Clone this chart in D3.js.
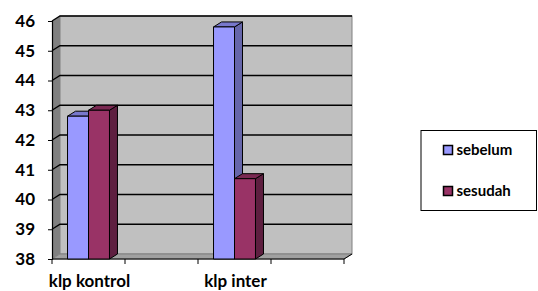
<!DOCTYPE html>
<html><head><meta charset="utf-8">
<script src="https://cdn.jsdelivr.net/npm/d3@7"></script>
<style>
body{margin:0;background:#fff;}
svg{display:block;font-family:Lato,"Open Sans",sans-serif;font-weight:bold;}
</style></head>
<body><svg id="c" width="538" height="291"></svg>
<script>
const categories = ["klp kontrol", "", "klp inter", ""];
const seriesNames = ["sebelum", "sesudah"];
const sebelum = [42.8, null, 45.8, null];
const sesudah = [43.0, null, 40.7, null];
const yTicks = [38, 39, 40, 41, 42, 43, 44, 45, 46];

const colors = {
  sebelum: {front: "#9999FF", top: "#7878CC", side: "#6666AA"},
  sesudah: {front: "#993366", top: "#7A2952", side: "#5E1F40"}
};
const svg = d3.select("#c");
const dx = 8, dy = -5;
const idx = d3.range(categories.length);
const x = d3.scaleBand().domain(idx).range([52, 344]).padding(0);
const y = d3.scaleLinear().domain([38, 46]).range([259, 21]);
const xs = d3.scaleBand().domain(seriesNames).range([0, x.bandwidth()]).paddingInner(0).paddingOuter(0.74);

const y0 = y(38), yTop = y(46), xL = x.range()[0], xR = x.range()[1];
// left side wall
svg.append("polygon").attr("points", [[xL, y0],[xL+dx, y0+dy],[xL+dx, yTop+dy],[xL, yTop]].join(" "))
  .attr("fill", "#808080");
// back wall
svg.append("rect").attr("x", xL+dx).attr("y", yTop+dy).attr("width", xR-xL).attr("height", y0-yTop)
  .attr("fill", "#C0C0C0").attr("stroke", "#808080").attr("stroke-width", 1);
// floor
svg.append("polygon").attr("points", [[xL, y0],[xL+dx, y0+dy],[xR+dx, y0+dy],[xR, y0]].join(" "))
  .attr("fill", "#A0A0A0").attr("stroke", "#808080");
// gridlines
yTicks.forEach(t => {
  if (t === 38) return;
  const yy = y(t);
  svg.append("polyline").attr("points", [[xL, yy],[xL+dx, yy+dy],[xR+dx, yy+dy]].join(" "))
    .attr("fill", "none").attr("stroke", "#000").attr("stroke-width", 1.3);
});
// axes
const yAxis = d3.axisLeft(y).tickValues(yTicks).tickSize(4).tickFormat(d3.format("d"));
const ga = svg.append("g").attr("transform", `translate(${xL},0)`).call(yAxis);
ga.select(".domain").attr("stroke", "#000").attr("stroke-width", 1.2);
ga.selectAll("text").attr("font-size", 17).attr("font-weight", "bold").attr("font-family", "Lato").attr("x", -17).attr("fill", "#000");
ga.selectAll(".tick line").attr("stroke", "#000");

const tickXs = idx.map(i => x(i)).concat([xR]);
svg.append("line").attr("x1", xL).attr("x2", xR).attr("y1", y0).attr("y2", y0).attr("stroke", "#000").attr("stroke-width", 1.2);
svg.append("line").attr("x1", xR).attr("x2", xR+dx).attr("y1", y0).attr("y2", y0+dy).attr("stroke", "#000");
svg.selectAll("line.xt").data(tickXs).join("line").attr("class", "xt")
  .attr("x1", d => d).attr("x2", d => d).attr("y1", y0).attr("y2", y0+5).attr("stroke", "#000");
svg.selectAll("text.xl").data(idx).join("text").attr("class", "xl")
  .attr("x", i => x(i) + x.bandwidth()/2 + 1).attr("y", 287).attr("text-anchor", "middle")
  .attr("font-size", 17).text(i => categories[i]);

// bars
const data = [];
idx.forEach(i => {
  seriesNames.forEach(s => {
    const v = (s === "sebelum" ? sebelum : sesudah)[i];
    if (v != null) data.push({i, s, v});
  });
});
const bw = xs.bandwidth();
const g = svg.append("g").attr("stroke", "#000").attr("stroke-width", 1).attr("stroke-linejoin", "round");
data.forEach(d => {
  const bx = x(d.i) + xs(d.s), by = y(d.v), col = colors[d.s];
  g.append("polygon").attr("points", [[bx+bw, by],[bx+bw+dx, by+dy],[bx+bw+dx, y0+dy],[bx+bw, y0]].join(" ")).attr("fill", col.side);
  g.append("polygon").attr("points", [[bx, by],[bx+dx, by+dy],[bx+bw+dx, by+dy],[bx+bw, by]].join(" ")).attr("fill", col.top);
  g.append("rect").attr("x", bx).attr("y", by).attr("width", bw).attr("height", y0 - by).attr("fill", col.front);
});

// legend
svg.append("rect").attr("x", 421).attr("y", 130.5).attr("width", 115.5).attr("height", 80)
  .attr("fill", "#fff").attr("stroke", "#000").attr("stroke-width", 1);
const lg = svg.selectAll("g.leg").data(seriesNames).join("g").attr("class", "leg")
  .attr("transform", (d, i) => `translate(443,${150 + i*41})`);
lg.append("rect").attr("x", 0.5).attr("y", -4.5).attr("width", 9).attr("height", 9)
  .attr("fill", d => colors[d].front).attr("stroke", "#000").attr("stroke-width", 1.5);
lg.append("text").attr("x", 13.5).attr("y", 5).attr("font-size", 15).text(d => d);
</script></body></html>
